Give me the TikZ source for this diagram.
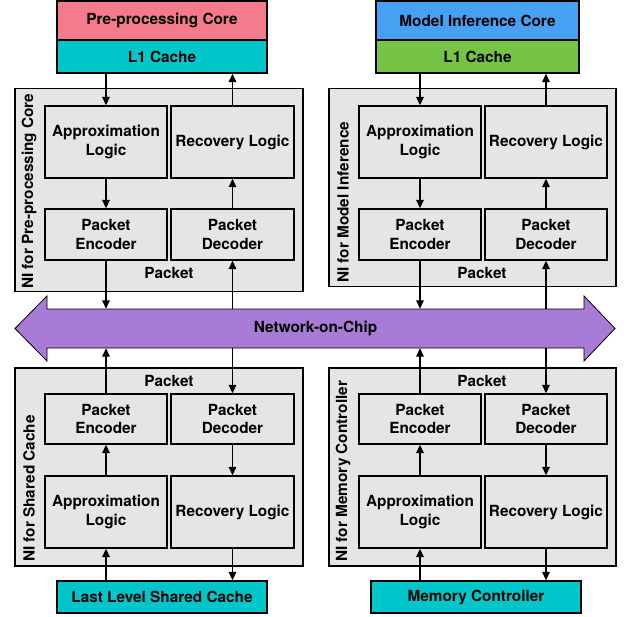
\documentclass[tikz,border=0pt]{standalone}
\usepackage{fontspec}
\setmainfont{TeX Gyre Heros}
\usetikzlibrary{arrows.meta}
\definecolor{corepink}{HTML}{F47B8B}
\definecolor{cachecyan}{HTML}{00C6C9}
\definecolor{coreblue}{HTML}{46A1F2}
\definecolor{cachegreen}{HTML}{76C446}
\definecolor{nocpurple}{HTML}{A77BD6}
\definecolor{nigray}{HTML}{E5E5E5}
\tikzset{
  every node/.style={font=\fontsize{15.4}{18.3}\selectfont\bfseries},
  blk/.style={draw=black, line width=1.3bp, fill=nigray, align=center, inner sep=0pt},
  nibox/.style={draw=black, line width=1.3bp, fill=nigray, inner sep=0pt},
  topbox/.style={draw=black, line width=1.3bp, inner sep=0pt, align=center},
  conn/.style={line width=1.4bp, -{Triangle[length=8.5bp,width=7.5bp]}},
  nilabel/.style={rotate=90, anchor=west, inner sep=0pt},
}
\begin{document}
\begin{tikzpicture}[x=1bp, y=-1bp]
\useasboundingbox (0,0) rectangle (627,617);

% ---------- NoC ----------
\node[minimum width=537bp, minimum height=39bp, inner sep=0pt] (noc) at (315.5,328.5) {};
\draw[fill=nocpurple, draw=black, line width=0.8bp]
  (15,328.5) -- (47,296) -- (47,309) -- (584,309) -- (584,296) -- (615,328.5)
  -- (584,361) -- (584,348) -- (47,348) -- (47,361) -- cycle;
\node at (noc.center) {Network-on-Chip};

% ---------- Top-left ----------
\node[topbox, fill=corepink, minimum width=210bp, minimum height=39bp] (ppc) at (162,20.5) {Pre-processing Core};
\node[topbox, fill=cachecyan, minimum width=210bp, minimum height=33bp] (l1a) at (162,56.5) {L1 Cache};
\node[nibox, minimum width=288bp, minimum height=203bp] (ni1) at (159,190) {};
\node[nilabel] at (29,289) {NI for Pre-processing Core};
\node[blk, minimum width=122bp, minimum height=72bp] (ap1) at (106,142) {Approximation\\Logic};
\node[blk, minimum width=123bp, minimum height=72bp] (rl1) at (232.5,142) {Recovery Logic};
\node[blk, minimum width=122bp, minimum height=51bp] (pe1) at (106,234.5) {Packet\\Encoder};
\node[blk, minimum width=123bp, minimum height=51bp] (pd1) at (232.5,234.5) {Packet\\Decoder};
\node at (169,273) {Packet};

\draw[conn] (l1a.south -| ap1.north) -- (ap1.north);
\draw[conn] (rl1.north) -- (rl1.north |- l1a.south);
\draw[conn] (ap1.south) -- (pe1.north);
\draw[conn] (pd1.north) -- (rl1.south);
\draw[conn] (pe1.south) -- (pe1.south |- noc.north);
\draw[conn] (pd1.south |- noc.north) -- (pd1.south);

% ---------- Top-right ----------
\node[topbox, fill=coreblue, minimum width=203bp, minimum height=39bp] (mic) at (477.5,20.5) {Model Inference Core};
\node[topbox, fill=cachegreen, minimum width=203bp, minimum height=33bp] (l1b) at (477.5,56.5) {L1 Cache};
\node[nibox, minimum width=287bp, minimum height=198bp] (ni2) at (472.5,187.5) {};
\node[nilabel] at (343,283) {NI for Model Inference};
\node[blk, minimum width=122bp, minimum height=72bp] (ap2) at (420,142) {Approximation\\Logic};
\node[blk, minimum width=122bp, minimum height=72bp] (rl2) at (546,142) {Recovery Logic};
\node[blk, minimum width=122bp, minimum height=51bp] (pe2) at (420,234.5) {Packet\\Encoder};
\node[blk, minimum width=122bp, minimum height=51bp] (pd2) at (546,234.5) {Packet\\Decoder};
\node at (482,273) {Packet};

\draw[conn] (l1b.south -| ap2.north) -- (ap2.north);
\draw[conn] (rl2.north) -- (rl2.north |- l1b.south);
\draw[conn] (ap2.south) -- (pe2.north);
\draw[conn] (pd2.north) -- (rl2.south);
\draw[conn] (pe2.south) -- (pe2.south |- noc.north);
\draw[conn] (pd2.south |- noc.north) -- (pd2.south);

% ---------- Bottom-left ----------
\node[nibox, minimum width=288bp, minimum height=198bp] (ni3) at (159,467) {};
\node[nilabel] at (29,562) {NI for Shared Cache};
\node at (169,381) {Packet};
\node[blk, minimum width=122bp, minimum height=50bp] (pe3) at (106,419) {Packet\\Encoder};
\node[blk, minimum width=123bp, minimum height=50bp] (pd3) at (232.5,419) {Packet\\Decoder};
\node[blk, minimum width=122bp, minimum height=72bp] (ap3) at (106,512) {Approximation\\Logic};
\node[blk, minimum width=123bp, minimum height=72bp] (rl3) at (232.5,512) {Recovery Logic};
\node[topbox, fill=cachecyan, minimum width=210bp, minimum height=32bp] (llc) at (162,597) {Last Level Shared Cache};

\draw[conn] (pe3.north) -- (pe3.north |- noc.south);
\draw[conn] (pd3.north |- noc.south) -- (pd3.north);
\draw[conn] (ap3.north) -- (pe3.south);
\draw[conn] (pd3.south) -- (rl3.north);
\draw[conn] (llc.north -| ap3.south) -- (ap3.south);
\draw[conn] (rl3.south) -- (rl3.south |- llc.north);

% ---------- Bottom-right ----------
\node[nibox, minimum width=287bp, minimum height=198bp] (ni4) at (472.5,467) {};
\node[nilabel] at (343,562) {NI for Memory Controller};
\node at (482,381) {Packet};
\node[blk, minimum width=122bp, minimum height=50bp] (pe4) at (420,419) {Packet\\Encoder};
\node[blk, minimum width=122bp, minimum height=50bp] (pd4) at (546,419) {Packet\\Decoder};
\node[blk, minimum width=122bp, minimum height=72bp] (ap4) at (420,512) {Approximation\\Logic};
\node[blk, minimum width=122bp, minimum height=72bp] (rl4) at (546,512) {Recovery Logic};
\node[topbox, fill=cachecyan, minimum width=210bp, minimum height=32bp] (mc) at (476,597) {Memory Controller};

\draw[conn] (pe4.north) -- (pe4.north |- noc.south);
\draw[conn] (pd4.north |- noc.south) -- (pd4.north);
\draw[conn] (ap4.north) -- (pe4.south);
\draw[conn] (pd4.south) -- (rl4.north);
\draw[conn] (mc.north -| ap4.south) -- (ap4.south);
\draw[conn] (rl4.south) -- (rl4.south |- mc.north);
\end{tikzpicture}
\end{document}
